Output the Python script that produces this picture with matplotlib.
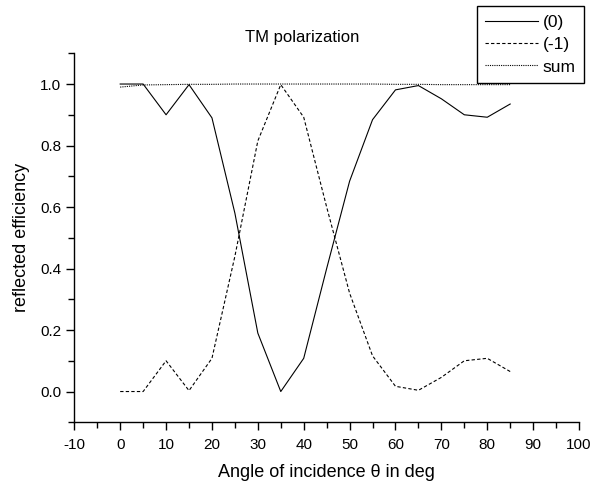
import numpy as np
import matplotlib
matplotlib.use("Agg")
import matplotlib.pyplot as plt
from matplotlib.ticker import MultipleLocator

plt.rcParams['font.family'] = ['Liberation Sans', 'DejaVu Sans']
plt.rcParams['axes.unicode_minus'] = False

# angle of incidence (deg)
angle = [0, 5, 10, 15, 20, 25, 30, 35, 40, 45, 50, 55, 60, 65, 70, 75, 80, 85]

# reflected efficiency of the orders
order0 = [1.0, 1.0, 0.90, 0.998, 0.89, 0.58, 0.19, 0.0, 0.108, 0.40, 0.684,
          0.884, 0.981, 0.995, 0.952, 0.90, 0.892, 0.935]
order_m1 = [0.0, 0.0, 0.10, 0.003, 0.108, 0.44, 0.815, 0.998, 0.892, 0.60, 0.32,
            0.116, 0.017, 0.004, 0.046, 0.10, 0.108, 0.065]
total = [0.99, 0.997, 0.998, 0.999, 0.999, 1.0, 1.0, 1.0, 1.0, 1.0, 1.0,
         1.0, 0.999, 0.999, 0.998, 0.998, 0.998, 0.998]

fig = plt.figure(figsize=(5.93, 4.87), dpi=100)
ax = fig.add_axes([0.1253, 0.1329, 0.8511, 0.7577])

l0, = ax.plot(angle, order0, color='black', lw=0.8, ls='-', label='(0)')
l1, = ax.plot(angle, order_m1, color='black', lw=0.8, ls=(0, (3, 2)), label='(-1)')
l2, = ax.plot(angle, total, color='black', lw=0.8, ls=(0, (1, 1)), label='sum')

ax.set_xlim(-10, 100)
ax.set_ylim(-0.1, 1.1)
ax.xaxis.set_major_locator(MultipleLocator(10))
ax.xaxis.set_minor_locator(MultipleLocator(5))
ax.yaxis.set_minor_locator(MultipleLocator(0.1))
ax.set_yticks([0.0, 0.2, 0.4, 0.6, 0.8, 1.0])
ax.set_yticklabels(['0.0', '0.2', '0.4', '0.6', '0.8', '1.0'])

for side in ['top', 'right']:
    ax.spines[side].set_visible(False)
for side in ['left', 'bottom']:
    ax.spines[side].set_linewidth(1.0)
ax.tick_params(which='major', direction='out', length=6, width=1.0, labelsize=11)
ax.tick_params(axis='x', which='major', pad=5)
ax.tick_params(which='minor', direction='out', length=4, width=1.0)

ax.set_xlabel('Angle of incidence \u03b8 in deg', fontsize=13, labelpad=9)
ax.set_ylabel('reflected efficiency', fontsize=13, labelpad=7)

fig.text(0.509, 0.924, 'TM polarization', fontsize=12, ha='center', va='center')

leg = fig.legend(handles=[l0, l1, l2], loc='upper left',
                 bbox_to_anchor=(0.804, 0.988), borderaxespad=0,
                 fontsize=12.5, handlelength=3.0, handletextpad=0.3,
                 labelspacing=0.42, borderpad=0.5, fancybox=False,
                 framealpha=1, edgecolor='black')
leg.get_frame().set_linewidth(1.0)

fig.savefig('out.png', dpi=100)
